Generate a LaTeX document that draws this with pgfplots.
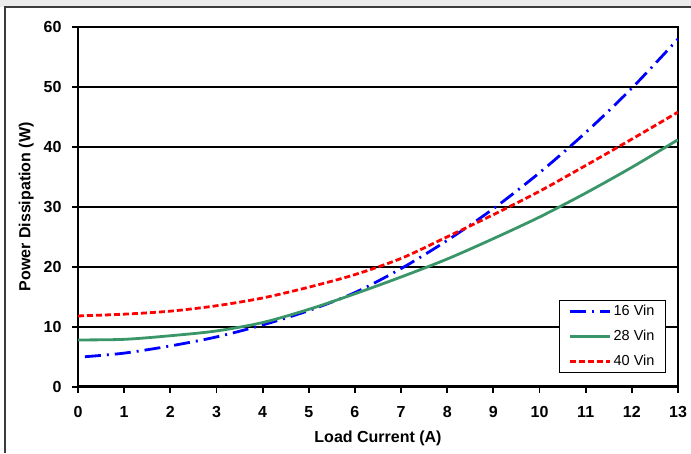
\documentclass[border=0pt]{standalone}
\usepackage{fontspec}
\setmainfont{Liberation Sans}
\usepackage{pgfplots}
\pgfplotsset{compat=1.18}
\definecolor{vgreen}{RGB}{58,150,104}
\definecolor{bandgrey}{RGB}{236,236,236}
\definecolor{framegrey}{RGB}{60,60,60}

\begin{document}
\begin{tikzpicture}[x=1pt,y=1pt]
% canvas 691 x 453 (1pt = 1px)
\path[use as bounding box] (0,0) rectangle (691,453);
\fill[bandgrey] (0,446) rectangle (691,453);
\draw[framegrey, line width=2pt] (5,0) -- (5,446) -- (691,446);

\begin{axis}[
  at={(78pt,66.3pt)}, anchor=south west,
  scale only axis,
  width=600pt, height=359.7pt,
  xmin=0, xmax=13, ymin=0, ymax=60,
  xtick={0,1,...,13}, ytick={0,10,...,60},
  xtick pos=bottom, ytick pos=left,
  tick align=outside,
  major tick length=6pt,
  tick style={black, line width=1.8pt},
  axis line style={black, line width=2.6pt},
  ymajorgrids=true,
  grid style={black, line width=1.8pt},
  font=\fontsize{16}{18}\selectfont\bfseries,
  ticklabel style={font=\fontsize{16}{18}\selectfont\bfseries},
  /pgf/number format/assume math mode=true,
  xticklabel style={yshift=-10pt},
  yticklabel style={xshift=-7pt},
  xlabel={Load Current (A)},
  ylabel={Power Dissipation (W)},
  xlabel style={yshift=-6pt},
  ylabel style={yshift=3pt},
  legend cell align=left,
  legend style={at={(rel axis cs:0.98,0.039)}, anchor=south east,
    draw=black, line width=1pt, font=\fontsize{14.5}{16}\selectfont,
    row sep=9pt, inner xsep=9pt, inner ysep=3pt},
  legend image code/.code={\draw[#1] (0pt,0pt) -- (40pt,0pt);},
]
\addplot[blue, line width=2.8pt, smooth,
  dash pattern=on 16pt off 6pt on 2pt off 6pt] coordinates {
  (0.15,5.0) (1,5.6) (2,6.8) (3,8.3) (4,10.3) (5,12.7) (6,15.7)
  (7,19.7) (8,24.4) (9,29.7) (10,35.7) (11,42.4) (12,49.8) (13,58.0)
};
\addlegendentry{16 Vin}
\addplot[vgreen, line width=2.8pt, smooth] coordinates {
  (0,7.8) (1,7.9) (2,8.5) (3,9.3) (4,10.7) (5,12.9) (6,15.5)
  (7,18.3) (8,21.3) (9,24.7) (10,28.3) (11,32.3) (12,36.6) (13,41.2)
};
\addlegendentry{28 Vin}
\addplot[red, line width=2.8pt, smooth,
  dash pattern=on 6pt off 3pt] coordinates {
  (0,11.8) (1,12.1) (2,12.6) (3,13.5) (4,14.8) (5,16.6) (6,18.7)
  (7,21.4) (8,25.0) (9,28.7) (10,32.6) (11,36.9) (12,41.3) (13,45.8)
};
\addlegendentry{40 Vin}
\end{axis}
\end{tikzpicture}
\end{document}
